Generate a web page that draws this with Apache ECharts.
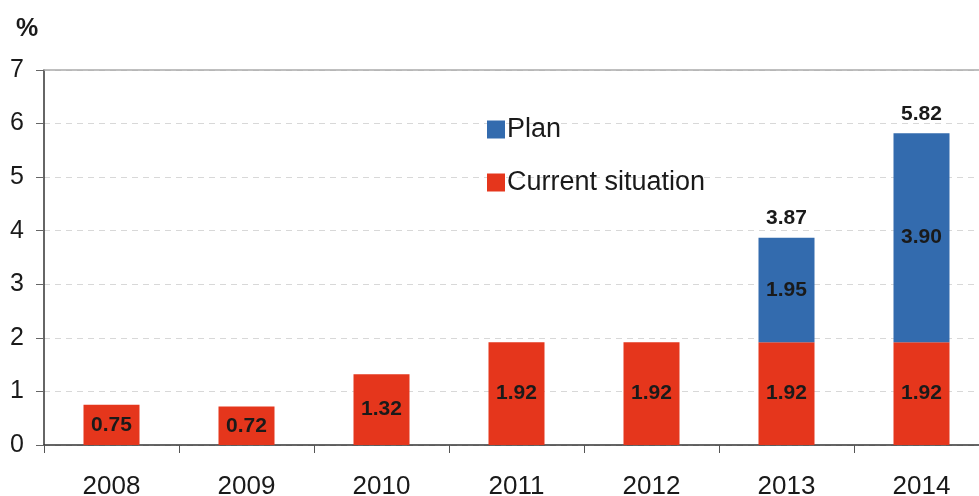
<!DOCTYPE html>
<html lang="en">
<head>
    <meta charset="UTF-8">
    <script src="https://cdn.jsdelivr.net/npm/echarts@6/dist/echarts.min.js"></script>
    <style>
        *{ margin: 0; padding: 0; }
        #chart { width: 979px; height: 496px; background: #fff; }
    </style>
</head>
<body>
<div id="chart"></div>
<script>
    var years = ['2008', '2009', '2010', '2011', '2012', '2013', '2014'];
    var current = [0.75, 0.72, 1.32, 1.92, 1.92, 1.92, 1.92];
    var plan = [null, null, null, null, null, 1.95, 3.90];
    var totals = [null, null, null, null, null, 3.87, 5.82];

    var font = 'Liberation Sans, Arial, sans-serif';
    var myChart = echarts.init(document.getElementById('chart'));

    function fmt(p) {
        var v = Array.isArray(p.value) ? p.value[1] : p.value;
        return v == null ? '' : v.toFixed(2);
    }

    var insideLabel = {
        show: true,
        position: 'inside',
        color: '#1a1a1a',
        fontSize: 21,
        fontWeight: 'bold',
        fontFamily: font,
        formatter: fmt
    };

    var option = {
        animation: false,
        textStyle: { fontFamily: font },
        title: {
            text: '%',
            left: 11,
            top: 12,
            textStyle: { fontSize: 25, fontWeight: 'bold', color: '#1a1a1a', fontFamily: font }
        },
        legend: {
            orient: 'vertical',
            left: 482,
            top: 111,
            itemWidth: 18,
            itemHeight: 18,
            itemGap: 26,
            icon: 'rect',
            data: ['Plan', 'Current situation'],
            textStyle: { fontSize: 27, color: '#1a1a1a', fontFamily: font, padding: [0, 0, 0, -3] }
        },
        grid: { left: 44, right: -10, top: 70, bottom: 51, outerBoundsMode: 'none', containLabel: false },
        xAxis: [{
            type: 'category',
            data: years,
            axisLine: { lineStyle: { color: '#333', width: 1.5 } },
            axisTick: { show: true, length: 8, lineStyle: { color: '#555' } },
            axisLabel: { fontSize: 26, color: '#1a1a1a', margin: 29, fontFamily: font }
        }, {
            type: 'category',
            position: 'top',
            data: years,
            axisLine: { lineStyle: { color: '#aaa', width: 1.5 } },
            axisTick: { show: false },
            axisLabel: { show: false }
        }],
        yAxis: {
            type: 'value',
            min: 0,
            max: 7,
            interval: 1,
            axisLine: { show: true, lineStyle: { color: '#333', width: 1.5 } },
            axisTick: { show: true, length: 8, lineStyle: { color: '#666' } },
            axisLabel: { fontSize: 25, color: '#1a1a1a', margin: 20, fontFamily: font },
            splitLine: { lineStyle: { color: '#d8d8d8', type: [6, 5] } }
        },
        series: [
            {
                name: 'Current situation',
                type: 'bar',
                stack: 'total',
                barWidth: 56,
                data: current,
                itemStyle: { color: '#E5361C' },
                label: insideLabel
            },
            {
                name: 'Plan',
                type: 'bar',
                stack: 'total',
                barWidth: 56,
                data: plan,
                itemStyle: { color: '#336BAE' },
                label: insideLabel
            },
            {
                name: 'total',
                type: 'scatter',
                data: totals,
                symbolSize: 1,
                itemStyle: { color: 'rgba(0,0,0,0)', opacity: 1 },
                silent: true,
                label: {
                    show: true,
                    position: 'top',
                    distance: 8,
                    color: '#1a1a1a',
                    fontSize: 21,
                    fontWeight: 'bold',
                    fontFamily: font,
                    formatter: fmt
                }
            }
        ]
    };

    myChart.setOption(option);
</script>
</body>
</html>
